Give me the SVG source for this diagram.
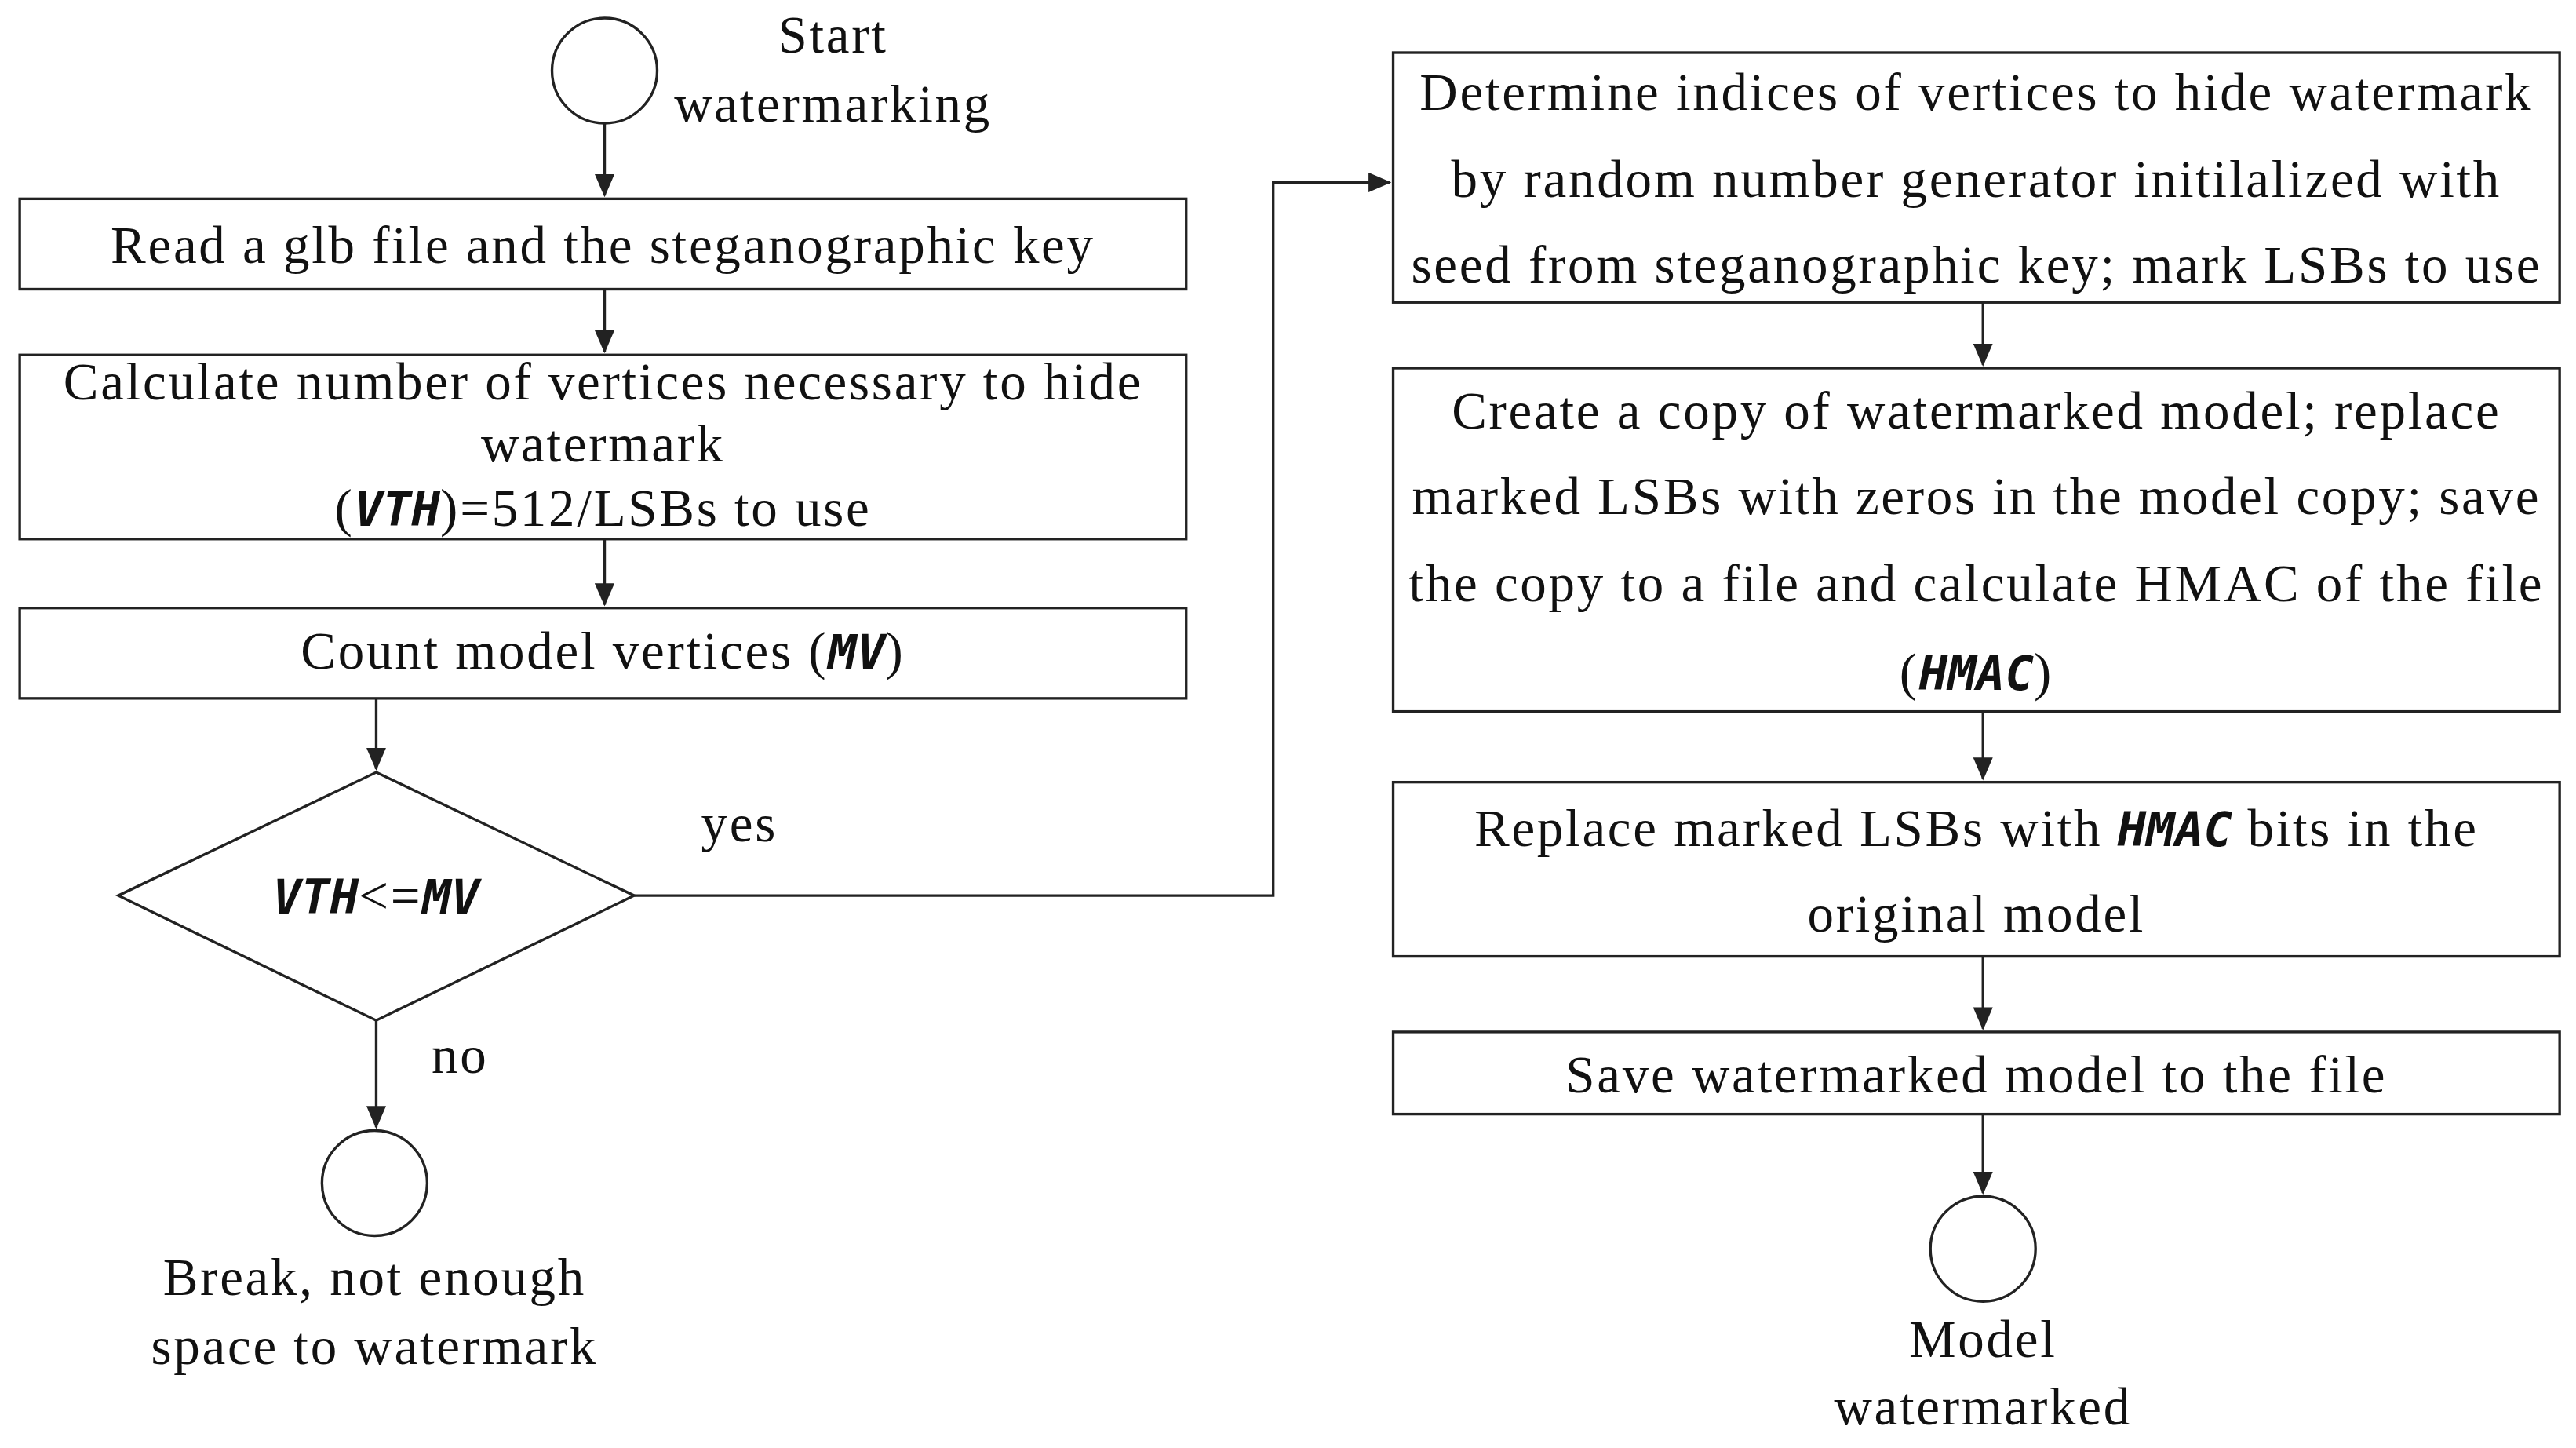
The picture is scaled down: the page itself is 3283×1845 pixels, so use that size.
<svg xmlns="http://www.w3.org/2000/svg" width="3283" height="1845" viewBox="0 0 3283 1845">
<style>
.n{fill:#fff;stroke:#222;stroke-width:1.6}
.t{font-family:"Liberation Serif",serif;font-size:32px;letter-spacing:1.3px;fill:#111;text-anchor:middle}
.v{font-family:"DejaVu Sans Mono",monospace;font-style:italic;font-weight:bold;font-size:29px;letter-spacing:0}
.c{fill:none;stroke:#222;stroke-width:1.6}
</style>
<defs><marker id="b" markerWidth="14" markerHeight="12" refX="13" refY="6" orient="auto" markerUnits="userSpaceOnUse"><path d="M0,0L14,6L0,12z" fill="#222"/></marker></defs>
<rect width="3283" height="1845" fill="#fff"/>
<g transform="scale(2.0938)">
<g id="connectors">
<path class="c" d="M368,75V119" marker-end="url(#b)"/>
<path class="c" d="M368,176V214" marker-end="url(#b)"/>
<path class="c" d="M368,328V368" marker-end="url(#b)"/>
<path class="c" d="M229,425V468" marker-end="url(#b)"/>
<path class="c" d="M229,621V686" marker-end="url(#b)"/>
<path class="c" d="M386,545H775V111H846" marker-end="url(#b)"/>
<path class="c" d="M1207,184V222" marker-end="url(#b)"/>
<path class="c" d="M1207,433V474" marker-end="url(#b)"/>
<path class="c" d="M1207,582V626" marker-end="url(#b)"/>
<path class="c" d="M1207,678V726" marker-end="url(#b)"/>
<text class="t" x="450" y="512">yes</text>
<text class="t" x="280" y="653">no</text>
</g>
<g id="start"><circle class="n" cx="368" cy="43" r="32"/><text class="t" x="507" y="32">Start</text><text class="t" x="507" y="74">watermarking</text></g>
<g id="read"><rect class="n" x="12" y="121" width="710" height="55"/><text class="t" x="367" y="160">Read a glb file and the steganographic key</text></g>
<g id="calc"><rect class="n" x="12" y="216" width="710" height="112"/><text class="t" x="367" y="243">Calculate number of vertices necessary to hide</text><text class="t" x="367" y="281">watermark</text><text class="t" x="367" y="320">(<tspan class="v">VTH</tspan>)=512/LSBs to use</text></g>
<g id="count"><rect class="n" x="12" y="370" width="710" height="55"/><text class="t" x="367" y="407">Count model vertices (<tspan class="v">MV</tspan>)</text></g>
<g id="decision"><path class="n" d="M229,470L386,545L229,621L72,545z"/><text class="t" x="229" y="556"><tspan class="v">VTH</tspan>&lt;=<tspan class="v">MV</tspan></text></g>
<g id="break"><circle class="n" cx="228" cy="720" r="32"/><text class="t" x="228" y="788">Break, not enough</text><text class="t" x="228" y="830">space to watermark</text></g>
<g id="determine"><rect class="n" x="848" y="32" width="710" height="152"/><text class="t" x="1203" y="67">Determine indices of vertices to hide watermark</text><text class="t" x="1203" y="120">by random number generator initilalized with</text><text class="t" x="1203" y="172">seed from steganographic key; mark LSBs to use</text></g>
<g id="copy"><rect class="n" x="848" y="224" width="710" height="209"/><text class="t" x="1203" y="261">Create a copy of watermarked model; replace</text><text class="t" x="1203" y="313">marked LSBs with zeros in the model copy; save</text><text class="t" x="1203" y="366">the copy to a file and calculate HMAC of the file</text><text class="t" x="1203" y="420">(<tspan class="v">HMAC</tspan>)</text></g>
<g id="replace"><rect class="n" x="848" y="476" width="710" height="106"/><text class="t" x="1203" y="515">Replace marked LSBs with <tspan class="v">HMAC</tspan> bits in the</text><text class="t" x="1203" y="567">original model</text></g>
<g id="save"><rect class="n" x="848" y="628" width="710" height="50"/><text class="t" x="1203" y="665">Save watermarked model to the file</text></g>
<g id="end"><circle class="n" cx="1207" cy="760" r="32"/><text class="t" x="1207" y="826">Model</text><text class="t" x="1207" y="867">watermarked</text></g>
</g>
</svg>
